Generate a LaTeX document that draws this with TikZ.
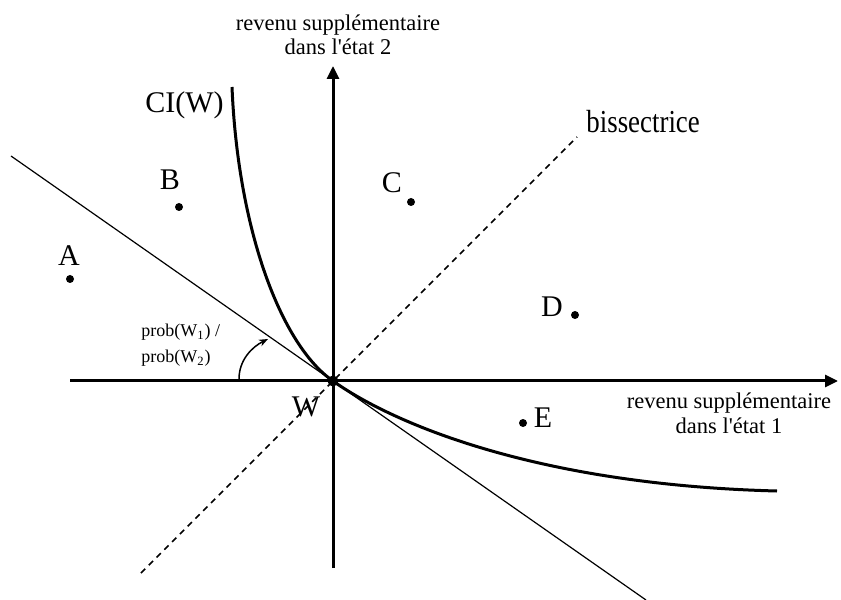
\documentclass[tikz,border=0pt]{standalone}
\usepackage{fontspec}
\setmainfont{Liberation Serif}[Ligatures=TeXOff]
\newfontfamily\narrowserif{Liberation Serif}[FakeStretch=0.84]
\usetikzlibrary{positioning, arrows.meta}

\begin{document}
\begin{tikzpicture}[x=0.5bp, y=-0.5bp,
    axis/.style={line width=1.5bp, -{Triangle[length=6.5bp, width=6bp]}},
    dot/.style={circle, fill, inner sep=0pt, minimum size=4bp},
    letter/.style={font=\fontsize{15bp}{15bp}\selectfont, anchor=base, inner sep=0pt},
    axislabel/.style={font=\fontsize{11.25bp}{12bp}\selectfont, align=center, anchor=base, inner sep=0pt}]
      \useasboundingbox (0,0) rectangle (841,600);

      % Axes
      \coordinate (O) at (333,381);
      \coordinate (xstart) at (70,381);
      \coordinate (xend) at (838,381);
      \coordinate (ystart) at (333,568);
      \coordinate (yend) at (333,66);
      \draw[axis] (xstart) -- (xend);
      \draw[axis] (ystart) -- (yend);

      % base = last line here
      \node[axislabel] (ylab) at (338,55) {revenu supplémentaire\\dans l'état 2};
      \node[axislabel] (xlab) at (729,433) {revenu supplémentaire\\dans l'état 1};

      % Bissectrice and tangent
      \coordinate (bisA) at (141,573);
      \coordinate (bisB) at (577,137);
      \draw[line width=0.75bp, dash pattern=on 3bp off 2.5bp] (bisA) -- (bisB);
      \node[anchor=base west, inner sep=0pt, font=\narrowserif\fontsize{16bp}{16bp}\selectfont] (bislab) at (586,133) {bissectrice};

      \coordinate (tanA) at (11,156);
      \coordinate (tanB) at (646,600);
      \draw[line width=0.6bp] (tanA) -- (tanB);

      % Indifference curve
      \coordinate (ciA) at (232,87);
      \coordinate (ciB) at (777,491);
      \draw[line width=1.5bp] (ciA) .. controls (238,230) and (281,345) .. (O)
                                   .. controls (395,425) and (540,485) .. (ciB);
      \node[letter, anchor=base west] (cilab) at (145,113) {CI(W)};

      % Slope
      \node[anchor=base west, inner sep=0pt, align=left, font=\fontsize{9bp}{13bp}\selectfont] (problab) at (141,363)
        {prob(W\textsubscript{1}) /\\prob(W\textsubscript{2})};
      \coordinate (pstart) at (239,379);
      \coordinate (ptip) at (268,339);
      \draw[line width=0.75bp, -{Stealth[length=4.5bp, width=3.5bp]}] (pstart) .. controls (239,360) and (252,347) .. (ptip);

      % Points
      \node[dot, minimum size=5.5bp] (W) at (O) {};
      \node[letter] (Wl) at (306,417) {W};

      \node[dot] (A) at (70,279) {};
      \node[letter] (Al) at (69,266) {A};
      \node[dot] (B) at (179,207) {};
      \node[letter] (Bl) at (170,190) {B};
      \node[dot] (C) at (411,202) {};
      \node[letter] (Cl) at (392,193) {C};
      \node[dot] (D) at (575,315) {};
      \node[letter] (Dl) at (552,317) {D};
      \node[dot] (E) at (523,423) {};
      \node[letter] (El) at (543,427) {E};
    \end{tikzpicture}
\end{document}
